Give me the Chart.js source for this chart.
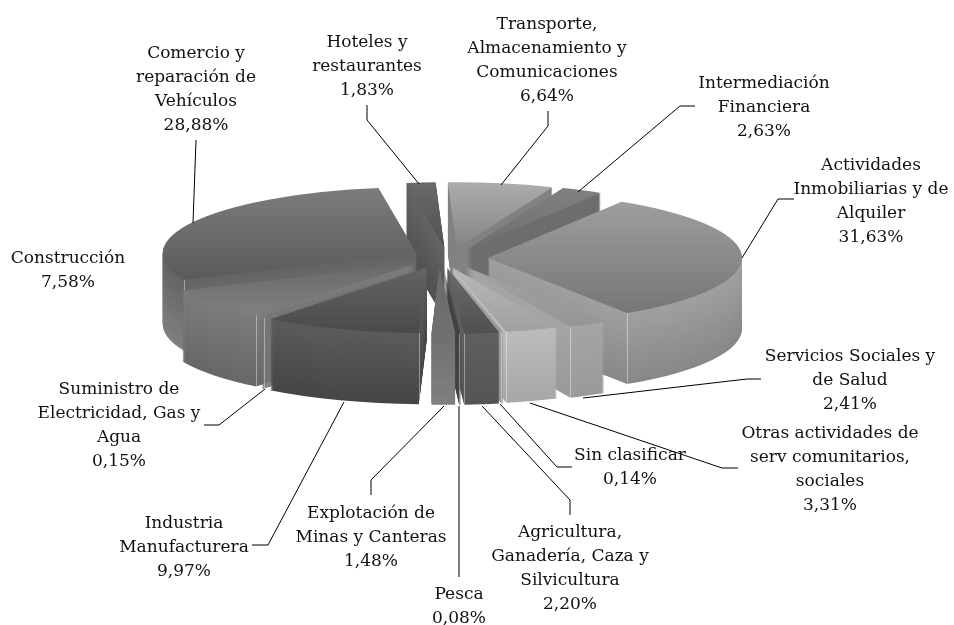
<!DOCTYPE html>
<html><head><meta charset="utf-8">
<style>html,body{margin:0;padding:0;background:#fff}canvas{display:block}</style>
<script src="https://cdn.jsdelivr.net/npm/chart.js@4"></script>
</head><body><canvas id="c" width="954" height="625"></canvas>
<script>
const categories = ["Transporte, Almacenamiento y Comunicaciones","Intermediación Financiera","Actividades Inmobiliarias y de Alquiler","Servicios Sociales y de Salud","Otras actividades de serv comunitarios, sociales","Sin clasificar","Agricultura, Ganadería, Caza y Silvicultura","Pesca","Explotación de Minas y Canteras","Industria Manufacturera","Suministro de Electricidad, Gas y Agua","Construcción","Comercio y reparación de Vehículos","Hoteles y restaurantes"];
const values = [6.64,2.63,31.63,2.41,3.31,0.14,2.20,0.08,1.48,9.97,0.15,7.58,28.88,1.83];
const labelLines = [["Transporte,","Almacenamiento y","Comunicaciones"],["Intermediación","Financiera"],["Actividades","Inmobiliarias y de","Alquiler"],["Servicios Sociales y","de Salud"],["Otras actividades de","serv comunitarios,","sociales"],["Sin clasificar"],["Agricultura,","Ganadería, Caza y","Silvicultura"],["Pesca"],["Explotación de","Minas y Canteras"],["Industria","Manufacturera"],["Suministro de","Electricidad, Gas y","Agua"],["Construcción"],["Comercio y","reparación de","Vehículos"],["Hoteles y","restaurantes"]];
const labelAnchors = [[547,25],[764,84],[871,166],[850,357],[830,434],[630,456],[570,533],[459,595],[371,514],[184,524],[119,390],[68,259],[196,54],[367,43]];
const leaders = [[[548,111],[548,126],[501,185]],[[695,106],[680,106],[578,192]],[[794,199],[778,199],[742,258]],[[761,379],[747,379],[583,398]],[[738,468],[722,468],[530,403]],[[572,467],[557,467],[500,404]],[[570,515],[570,500],[482,406]],[[459,577],[459,406]],[[371,495],[371,480],[444,406]],[[252,545],[268,545],[344,402]],[[204,425],[219,425],[265,389]],[],[[196,140],[193,223]],[[367,105],[367,120],[419,184]]];
const topTone = [[172,132],[128,110],[158,118],[162,150],[184,160],[160,150],[108,80],[68,68],[106,112],[100,74],[118,118],[106,128],[124,90],[106,80]];
const wallTone = [[130,130],[110,110],[160,136],[165,154],[188,168],[160,150],[96,85],[68,68],[112,128],[92,70],[118,118],[124,104],[100,128],[100,80]];
const sliceNudge = [0,0,0,-3,-10,-9,-8,-9,-11,-10,-6,-5,0,-2];
const baseColors = topTone.map(t => `rgb(${t[0]},${t[0]},${t[0]})`);

const CENTER_X = 450, CENTER_Y = 258, RADIUS_X = 254, RADIUS_Y = 66, DEPTH = 71, EXPLODE = 38;
const gray = v => { const g = Math.round(v); return `rgb(${g},${g},${g})`; };

const pie3d = {
  id: 'pie3d',
  beforeDatasetsDraw(chart) {
    const ctx = chart.ctx;
    const arcs = chart.getDatasetMeta(0).data;
    const R = arcs[0].outerRadius, sx = RADIUS_X / R, sy = RADIUS_Y / R;
    const ox = arcs[0].x, oy = arcs[0].y;
    const order = arcs.map((a, i) => i).sort((p, q) => {
      const y = a => Math.sin((a.startAngle + a.endAngle) / 2);
      return y(arcs[p]) - y(arcs[q]);
    });
    const drawWith = (arc, fill) => {
      const saved = arc.options;
      arc.options = Object.assign({}, saved, { backgroundColor: fill });
      arc.draw(ctx);
      arc.options = saved;
    };
    for (const i of order) {
      const a = arcs[i], mid = (a.startAngle + a.endAngle) / 2;
      const ys = [0, Math.sin(a.startAngle), Math.sin(a.endAngle)];
      if (a.startAngle < -Math.PI / 2 + 1e-6 && a.endAngle > -Math.PI / 2) ys.push(-1);
      if (a.startAngle < 3 * Math.PI / 2 && a.endAngle > 3 * Math.PI / 2) ys.push(-1);
      if (a.startAngle < Math.PI / 2 && a.endAngle > Math.PI / 2) ys.push(1);
      const y0 = oy + R * Math.min(...ys), y1 = oy + R * Math.max(...ys);
      const px = CENTER_X + sliceNudge[i] + Math.cos(mid) * EXPLODE;
      const py = CENTER_Y + Math.sin(mid) * EXPLODE * RADIUS_Y / RADIUS_X;
      ctx.save();
      ctx.translate(px, py);
      ctx.scale(sx, sy);
      ctx.translate(-ox, -oy);
      for (let d = DEPTH; d >= 1; d--) {
        ctx.save();
        ctx.translate(0, d / sy);
        const t = d / DEPTH;
        drawWith(a, gray(wallTone[i][0] + (wallTone[i][1] - wallTone[i][0]) * t));
        ctx.restore();
      }
      const g = ctx.createLinearGradient(0, y0, 0, y1);
      g.addColorStop(0, gray(topTone[i][0]));
      g.addColorStop(1, gray(topTone[i][1]));
      drawWith(a, g);
      ctx.restore();
      // pale highlight where an outer wall meets a visible inner wall
      const corners = [];
      if (Math.sin(a.startAngle) > 0 && Math.cos(a.startAngle) < 0) corners.push(a.startAngle);
      if (Math.sin(a.endAngle) > 0 && Math.cos(a.endAngle) > 0) corners.push(a.endAngle);
      ctx.save();
      ctx.strokeStyle = 'rgba(255,255,255,0.4)';
      ctx.lineWidth = 1;
      for (const c of corners) {
        const X = Math.round(px + RADIUS_X * Math.cos(c)) + 0.5, Y = py + RADIUS_Y * Math.sin(c);
        ctx.beginPath();
        ctx.moveTo(X, Y);
        ctx.lineTo(X, Y + DEPTH);
        ctx.stroke();
      }
      ctx.restore();
    }
    ctx.save();
    ctx.fillStyle = '#111';
    ctx.font = '17px "DejaVu Serif"';
    ctx.textAlign = 'center';
    ctx.textBaseline = 'middle';
    labelLines.forEach((lines, i) => {
      const [cx, cy] = labelAnchors[i];
      const all = lines.concat(values[i].toFixed(2).replace('.', ',') + '%');
      all.forEach((s, k) => ctx.fillText(s, cx, cy + k * 23.8));
    });
    ctx.strokeStyle = '#000';
    ctx.lineWidth = 1;
    for (const line of leaders) {
      if (!line.length) continue;
      ctx.beginPath();
      line.forEach((p, k) => k ? ctx.lineTo(p[0], p[1]) : ctx.moveTo(p[0], p[1]));
      ctx.stroke();
    }
    ctx.restore();
    return false;
  }
};

new Chart(document.getElementById('c'), {
  type: 'pie',
  data: { labels: categories, datasets: [{ data: values, backgroundColor: baseColors, borderWidth: 0 }] },
  options: {
    responsive: false, animation: false, rotation: -2,
    layout: { padding: 0 },
    plugins: { legend: { display: false }, tooltip: { enabled: false } }
  },
  plugins: [pie3d]
});
</script></body></html>
